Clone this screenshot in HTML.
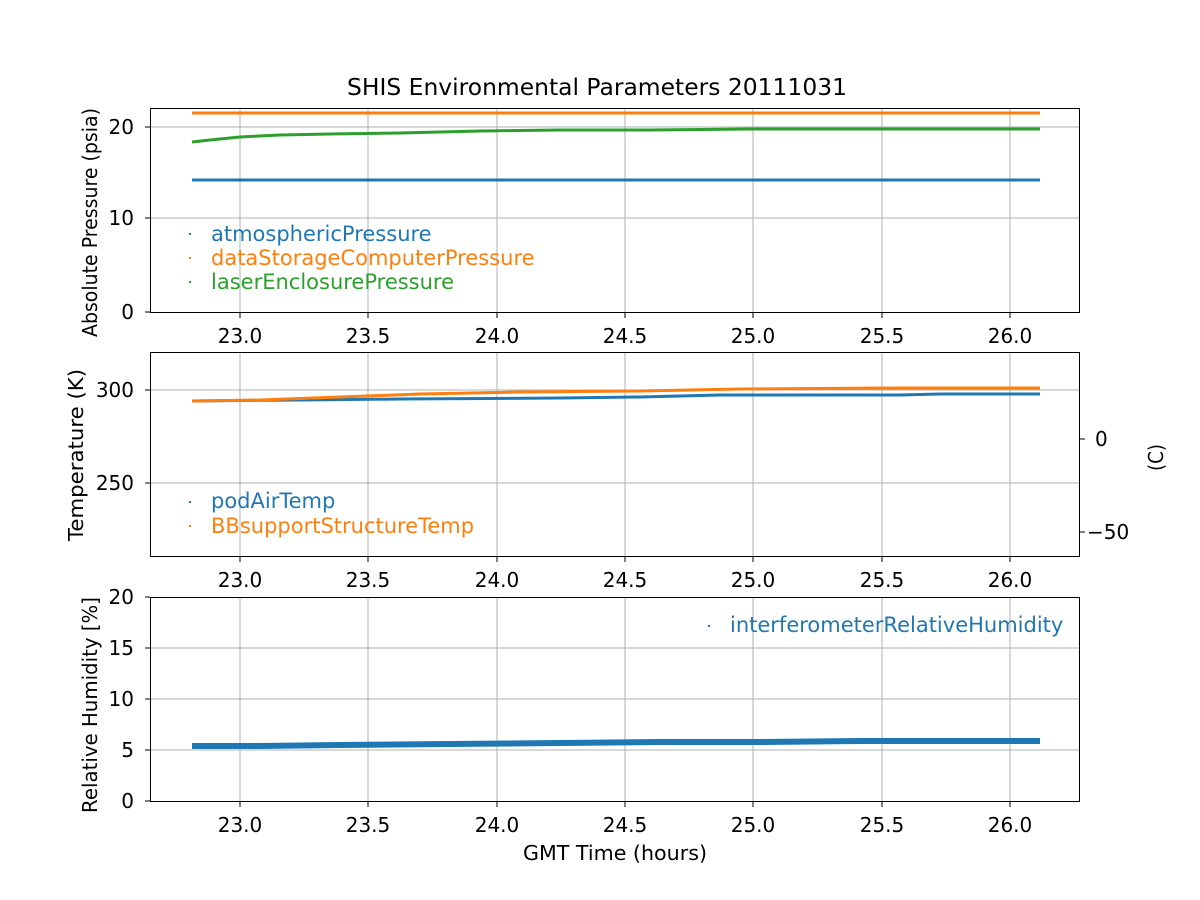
<!DOCTYPE html>
<html><head><meta charset="utf-8"><style>body{margin:0;background:#fff}svg{display:block}text{font-family:"DejaVu Sans","Liberation Sans",sans-serif;font-size:20px;fill:#000}</style></head><body>
<svg width="1200" height="900" viewBox="0 0 1200 900">
<g stroke="#b0b0b0" stroke-width="1">
<g id="vg"><line x1="240" x2="240" y1="108" y2="312"/><line x1="368" x2="368" y1="108" y2="312"/><line x1="497" x2="497" y1="108" y2="312"/><line x1="625" x2="625" y1="108" y2="312"/><line x1="753" x2="753" y1="108" y2="312"/><line x1="882" x2="882" y1="108" y2="312"/><line x1="1010" x2="1010" y1="108" y2="312"/></g>
<use href="#vg" transform="translate(0,244)"/>
<use href="#vg" transform="translate(0,489)"/>
<line x1="150" x2="1080" y1="218" y2="218"/><line x1="150" x2="1080" y1="127" y2="127"/>
<line x1="150" x2="1080" y1="390" y2="390"/><line x1="150" x2="1080" y1="483" y2="483"/>
<line x1="150" x2="1080" y1="750" y2="750"/><line x1="150" x2="1080" y1="699" y2="699"/><line x1="150" x2="1080" y1="648" y2="648"/>
</g>
<line x1="192" x2="1040" y1="180" y2="180" stroke="#1f77b4" stroke-width="3"/>
<line x1="192" x2="1040" y1="113" y2="113" stroke="#ff7f0e" stroke-width="3"/>
<polyline fill="none" stroke="#2ca02c" stroke-width="3" points="192,142 210,140 240,137 280,135 330,134 400,133 480,131 560,130 650,130 750,129 850,129 950,129 1040,129"/>
<polyline fill="none" stroke="#1f77b4" stroke-width="3" points="192,401 300,400 400,399 560,398 640,397 720,395 900,395 940,394 1040,394"/>
<polyline fill="none" stroke="#ff7f0e" stroke-width="3" points="192,401 260,400 340,397 420,394 520,392 640,391 740,389 900,388 1040,388"/>
<polyline fill="none" stroke="#1f77b4" stroke-width="6" points="192,746 260,746 340,745 450,744 560,743 660,742 760,742 860,741 960,741 1040,741"/>
<g fill="none" stroke="#000" stroke-width="1">
<rect x="150.5" y="108.5" width="929" height="204"/>
<rect x="150.5" y="352.5" width="929" height="204"/>
<rect x="150.5" y="597.5" width="929" height="204"/>
<g id="xt"><line x1="240" x2="240" y1="313" y2="318"/><line x1="368" x2="368" y1="313" y2="318"/><line x1="497" x2="497" y1="313" y2="318"/><line x1="625" x2="625" y1="313" y2="318"/><line x1="753" x2="753" y1="313" y2="318"/><line x1="882" x2="882" y1="313" y2="318"/><line x1="1010" x2="1010" y1="313" y2="318"/></g>
<use href="#xt" transform="translate(0,244)"/><use href="#xt" transform="translate(0,489)"/>
<line x1="145" x2="150" y1="312" y2="312"/><line x1="145" x2="150" y1="218" y2="218"/><line x1="145" x2="150" y1="127" y2="127"/>
<line x1="145" x2="150" y1="390" y2="390"/><line x1="145" x2="150" y1="483" y2="483"/>
<line x1="1080" x2="1085" y1="439" y2="439"/><line x1="1080" x2="1085" y1="532" y2="532"/>
<line x1="145" x2="150" y1="801" y2="801"/><line x1="145" x2="150" y1="750" y2="750"/><line x1="145" x2="150" y1="699" y2="699"/><line x1="145" x2="150" y1="648" y2="648"/><line x1="145" x2="150" y1="597" y2="597"/>
</g>
<g text-anchor="middle" id="xl"><text x="240" y="343">23.0</text><text x="368" y="343">23.5</text><text x="497" y="343">24.0</text><text x="625" y="343">24.5</text><text x="753" y="343">25.0</text><text x="882" y="343">25.5</text><text x="1010" y="343">26.0</text></g>
<use href="#xl" transform="translate(0,244)"/><use href="#xl" transform="translate(0,489)"/>
<g text-anchor="end">
<text x="134" y="319">0</text><text x="134" y="225">10</text><text x="134" y="134">20</text>
<text x="134" y="397">300</text><text x="134" y="490">250</text>
<text x="134" y="808">0</text><text x="134" y="757">5</text><text x="134" y="706">10</text><text x="134" y="655">15</text><text x="134" y="604">20</text>
</g>
<text x="1095" y="446">0</text><text x="1087" y="539">−50</text>
<text x="347" y="95" textLength="500" lengthAdjust="spacingAndGlyphs" style="font-size:23px">SHIS Environmental Parameters 20111031</text>
<text x="523" y="860" textLength="184" lengthAdjust="spacingAndGlyphs">GMT Time (hours)</text>
<text transform="translate(97,337) rotate(-90)" textLength="229" lengthAdjust="spacingAndGlyphs">Absolute Pressure (psia)</text>
<text transform="translate(83,541) rotate(-90)" textLength="172" lengthAdjust="spacingAndGlyphs">Temperature (K)</text>
<text transform="translate(97,813) rotate(-90)" textLength="216" lengthAdjust="spacingAndGlyphs">Relative Humidity [%]</text>
<text transform="translate(1163,471) rotate(-90)" textLength="27" lengthAdjust="spacingAndGlyphs">(C)</text>
<g style="font-size:21px">
<text x="211" y="241" style="fill:#1f77b4;font-size:21px">atmosphericPressure</text>
<text x="211" y="265" style="fill:#ff7f0e;font-size:21px">dataStorageComputerPressure</text>
<text x="211" y="289" style="fill:#2ca02c;font-size:21px">laserEnclosurePressure</text>
<text x="211" y="508" style="fill:#1f77b4;font-size:21px">podAirTemp</text>
<text x="211" y="533" style="fill:#ff7f0e;font-size:21px">BBsupportStructureTemp</text>
<text x="730" y="632" style="fill:#1f77b4;font-size:21px">interferometerRelativeHumidity</text>
</g>
<rect x="189" y="233" width="2" height="2" fill="#1f77b4"/><rect x="189" y="257" width="2" height="2" fill="#ff7f0e"/><rect x="189" y="281" width="2" height="2" fill="#2ca02c"/>
<rect x="189" y="501" width="2" height="2" fill="#1f77b4"/><rect x="189" y="525" width="2" height="2" fill="#ff7f0e"/><rect x="708" y="625" width="2" height="2" fill="#1f77b4"/>
</svg></body></html>
